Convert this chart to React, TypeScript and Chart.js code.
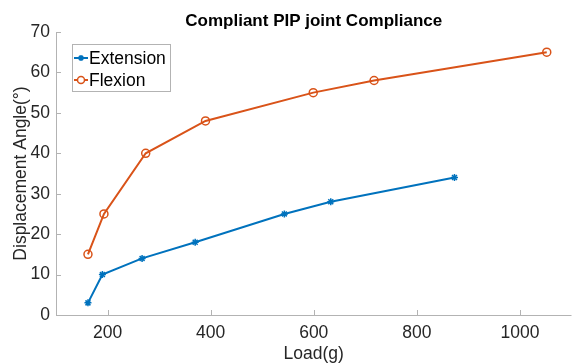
import React, { useEffect, useRef } from "react";
import { Chart, registerables } from "chart.js";

Chart.register(...registerables);

const TITLE = "Compliant PIP joint Compliance";
const X_LABEL = "Load(g)";
const Y_LABEL = "Displacement Angle(°)";
const SERIES_NAMES = ["Extension", "Flexion"];
const extensionLoad = [162, 190, 267, 370, 543, 633, 873];
const extensionAngle = [3, 10, 14, 18, 25, 28, 34];
const flexionLoad = [162, 193, 274, 390, 599, 717, 1052];
const flexionAngle = [15, 25, 40, 48, 55, 58, 65];
const xTicks = [200, 400, 600, 800, 1000];
const yTicks = [0, 10, 20, 30, 40, 50, 60, 70];
const X_MIN = 100;
const X_MAX = 1100;
const Y_MIN = 0;
const Y_MAX = 70;

const BLUE = "#0072BD";
const ORANGE = "#D95319";
const AXIS = "#b3b3b3";
const TEXT = "#262626";
const FONT = "'Liberation Sans', Arial, sans-serif";

const decor = {
  id: "decor",
  beforeDatasetsDraw(chart: any) {
    const ctx = chart.ctx;
    const { left, right, top, bottom } = chart.chartArea;
    const xs = chart.scales.x;
    const ys = chart.scales.y;
    ctx.save();
    ctx.strokeStyle = AXIS;
    ctx.lineWidth = 1;
    ctx.beginPath();
    ctx.moveTo(left + 0.5, top);
    ctx.lineTo(left + 0.5, bottom + 0.5);
    ctx.lineTo(right, bottom + 0.5);
    xTicks.forEach((v) => {
      const px = Math.round(xs.getPixelForValue(v)) + 0.5;
      ctx.moveTo(px, bottom);
      ctx.lineTo(px, bottom - 5);
    });
    yTicks.forEach((v) => {
      const py = Math.round(ys.getPixelForValue(v)) + 0.5;
      ctx.moveTo(left, py);
      ctx.lineTo(left + 5, py);
    });
    ctx.stroke();
    ctx.restore();
  },
  afterDraw(chart: any) {
    const ctx = chart.ctx;
    const { left, right, top, bottom } = chart.chartArea;
    ctx.save();
    // title
    ctx.fillStyle = "#000";
    ctx.font = `bold 17px ${FONT}`;
    ctx.textAlign = "center";
    ctx.textBaseline = "middle";
    ctx.fillText(TITLE, (left + right) / 2, 21);
    // axis titles
    ctx.fillStyle = TEXT;
    ctx.font = `17.5px ${FONT}`;
    ctx.fillText(X_LABEL, (left + right) / 2, 354);
    ctx.save();
    ctx.translate(21, (top + bottom) / 2);
    ctx.rotate(-Math.PI / 2);
    ctx.fillText(Y_LABEL, 0, 0);
    ctx.restore();
    // legend
    const bx = 72, by = 44, bw = 98, bh = 47;
    ctx.fillStyle = "#fff";
    ctx.fillRect(bx, by, bw, bh);
    ctx.strokeStyle = AXIS;
    ctx.lineWidth = 1;
    ctx.strokeRect(bx + 0.5, by + 0.5, bw, bh);
    const rows = [58, 80];
    chart.data.datasets.forEach((ds: any, i: number) => {
      const y = rows[i];
      ctx.strokeStyle = ds.borderColor;
      ctx.lineWidth = 2;
      ctx.beginPath();
      ctx.moveTo(74, y);
      ctx.lineTo(88, y);
      ctx.stroke();
      ctx.lineWidth = 1.5;
      if (i === 0) {
        ctx.beginPath();
        const r = 3;
        ctx.moveTo(81 - r, y); ctx.lineTo(81 + r, y);
        ctx.moveTo(81, y - r); ctx.lineTo(81, y + r);
        ctx.moveTo(81 - r * 0.7, y - r * 0.7); ctx.lineTo(81 + r * 0.7, y + r * 0.7);
        ctx.moveTo(81 - r * 0.7, y + r * 0.7); ctx.lineTo(81 + r * 0.7, y - r * 0.7);
        ctx.stroke();
      } else {
        ctx.beginPath();
        ctx.arc(81, y, 3.5, 0, Math.PI * 2);
        ctx.fillStyle = "#fff";
        ctx.fill();
        ctx.stroke();
      }
      ctx.fillStyle = "#000";
      ctx.font = `17.5px ${FONT}`;
      ctx.textAlign = "left";
      ctx.textBaseline = "middle";
      ctx.fillText(ds.label, 89, y + 1);
    });
    ctx.restore();
  },
};

export default function App() {
  const ref = useRef<HTMLCanvasElement | null>(null);
  useEffect(() => {
    document.body.style.margin = "0";
    const canvas = ref.current!;
    const chart = new Chart(canvas, {
      type: "line",
      data: {
        datasets: [
          {
            label: SERIES_NAMES[0],
            data: extensionLoad.map((x, i) => ({ x, y: extensionAngle[i] })),
            borderColor: BLUE,
            backgroundColor: BLUE,
            borderWidth: 2,
            pointStyle: "star",
            pointRadius: 3.5,
            pointBorderWidth: 1.5,
            pointBorderColor: BLUE,
            tension: 0,
          },
          {
            label: SERIES_NAMES[1],
            data: flexionLoad.map((x, i) => ({ x, y: flexionAngle[i] })),
            borderColor: ORANGE,
            backgroundColor: ORANGE,
            borderWidth: 2,
            pointStyle: "circle",
            pointRadius: 4,
            pointBorderWidth: 1.5,
            pointBorderColor: ORANGE,
            pointBackgroundColor: "rgba(255,255,255,0)",
            tension: 0,
          },
        ],
      },
      options: {
        responsive: false,
        animation: false,
        layout: { padding: { top: 32, left: 0, right: 0, bottom: 0 } },
        plugins: { legend: { display: false }, title: { display: false }, tooltip: { enabled: false } },
        scales: {
          x: {
            type: "linear",
            min: X_MIN,
            max: X_MAX,
            grid: { display: false, drawTicks: false, tickLength: 0 },
            border: { display: false },
            afterBuildTicks: (s: any) => { s.ticks = xTicks.map((v) => ({ value: v })); },
            afterFit: (s: any) => { s.height = 49; s.paddingLeft = 0; s.paddingRight = 0; },
            ticks: { color: TEXT, font: { family: FONT, size: 17.5 }, padding: 8, maxRotation: 0, callback: (v: any) => String(v) },
          },
          y: {
            type: "linear",
            min: Y_MIN,
            max: Y_MAX,
            grid: { display: false, drawTicks: false, tickLength: 0 },
            border: { display: false },
            afterBuildTicks: (s: any) => { s.ticks = yTicks.map((v) => ({ value: v })); },
            afterFit: (s: any) => { s.width = 56; s.paddingTop = 0; s.paddingBottom = 0; },
            ticks: { color: TEXT, font: { family: FONT, size: 17.5 }, padding: 6, callback: (v: any) => String(v) },
          },
        },
      },
      plugins: [decor],
    });
    return () => chart.destroy();
  }, []);
  return (
    <div style={{ position: "absolute", left: 0, top: 0, width: 574, height: 364, overflow: "hidden", background: "#fff" }}>
      <canvas ref={ref} width={577} height={364} style={{ display: "block" }} />
    </div>
  );
}
